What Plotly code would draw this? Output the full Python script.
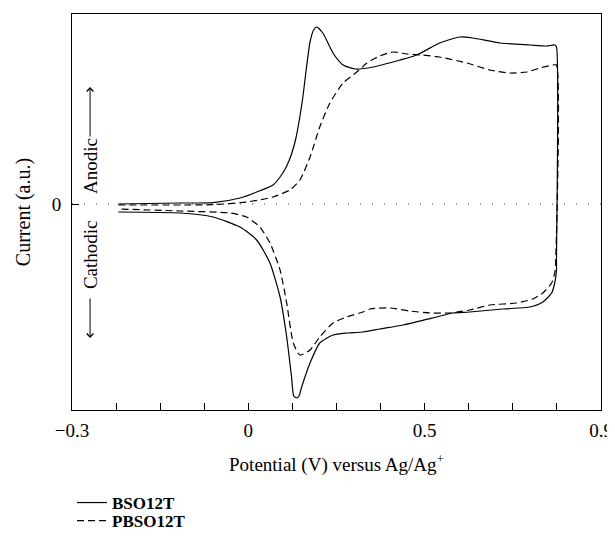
import plotly.graph_objects as go

# Cyclic voltammograms, potential in V, current in a.u.
bso_v = [-0.195, -0.055, 0.020, 0.081, 0.119, 0.156, 0.172, 0.186, 0.198, 0.208,
         0.216, 0.224, 0.232, 0.240, 0.248, 0.255, 0.269, 0.292, 0.315, 0.342, 0.383,
         0.444, 0.482, 0.534, 0.580, 0.609, 0.671, 0.739, 0.777, 0.795, 0.799,
         0.799, 0.799, 0.795, 0.788, 0.768, 0.739, 0.677, 0.602, 0.564, 0.527,
         0.451, 0.398, 0.360, 0.323, 0.292, 0.262, 0.240, 0.221, 0.215, 0.210,
         0.203, 0.198, 0.187, 0.172, 0.149, 0.119, 0.081, 0.020, -0.055, -0.195]
bso_i = [0.00, 0.01, 0.013, 0.06, 0.12, 0.19, 0.27, 0.37, 0.50, 0.66,
         0.85, 1.08, 1.37, 1.62, 1.74, 1.77, 1.71, 1.51, 1.39, 1.35, 1.37,
         1.44, 1.49, 1.61, 1.67, 1.66, 1.61, 1.59, 1.58, 1.59, 1.57,
         -0.56, -0.66, -0.79, -0.89, -0.98, -1.03, -1.05, -1.08, -1.09, -1.13,
         -1.21, -1.25, -1.28, -1.29, -1.31, -1.39, -1.59, -1.83, -1.92, -1.94,
         -1.92, -1.73, -1.33, -0.93, -0.59, -0.36, -0.23, -0.13, -0.09, -0.08]

pbso_v = [-0.195, -0.055, 0.020, 0.096, 0.156, 0.194, 0.217, 0.240, 0.262, 0.285,
          0.315, 0.346, 0.369, 0.398, 0.428, 0.460, 0.496, 0.534, 0.596, 0.648,
          0.693, 0.732, 0.761, 0.791, 0.799,
          0.797, 0.795, 0.788, 0.768, 0.745, 0.708, 0.648, 0.602, 0.557, 0.512,
          0.466, 0.421, 0.376, 0.360, 0.323, 0.292, 0.262, 0.240, 0.217, 0.202,
          0.187, 0.172, 0.149, 0.126, 0.096, 0.058, -0.055, -0.195]
pbso_i = [-0.01, -0.01, -0.007, 0.02, 0.07, 0.14, 0.24, 0.47, 0.77, 1.01,
          1.21, 1.32, 1.41, 1.48, 1.52, 1.50, 1.49, 1.47, 1.41, 1.34,
          1.31, 1.32, 1.36, 1.39, 1.39,
          -0.59, -0.69, -0.79, -0.89, -0.95, -0.99, -1.01, -1.06, -1.09, -1.09,
          -1.07, -1.04, -1.05, -1.08, -1.13, -1.19, -1.33, -1.46, -1.51, -1.39,
          -0.99, -0.66, -0.39, -0.23, -0.13, -0.09, -0.07, -0.05]

tick_pos = [-0.3, -0.2, -0.1, 0.0, 0.1, 0.2, 0.3, 0.4, 0.5, 0.6, 0.7, 0.8, 0.9]
tick_txt = ["\u22120.3", "", "", "", "0", "", "", "", "0.5", "", "", "", "0.9"]
long_ticks = [0.0, 0.5]

FONT = "Liberation Serif"
# page body has an 8px margin, so the figure is drawn 8px smaller
W, H = 607, 533

fig = go.Figure()
fig.add_trace(go.Scatter(x=bso_v, y=bso_i, mode="lines", name="<b>BSO12T</b>",
                         legend="legend",
                         line=dict(color="black", width=1.2, shape="spline", smoothing=0.6)))
fig.add_trace(go.Scatter(x=pbso_v, y=pbso_i, mode="lines", name="<b>PBSO12T</b>",
                         legend="legend2",
                         line=dict(color="black", width=1.2, dash="7px,4px",
                                   shape="spline", smoothing=0.6)))

# dotted zero line
fig.add_shape(type="line", xref="x domain", x0=0, x1=1, y0=0, y1=0, layer="below",
              line=dict(color="#444", width=1, dash="1px,11px"))

# Cathodic / Anodic labels with arrows
fig.add_annotation(x=-0.259, y=0.38, text="Anodic", textangle=-90, showarrow=False,
                   font=dict(family=FONT, size=19, color="black"))
fig.add_annotation(x=-0.259, y=-0.51, text="Cathodic", textangle=-90, showarrow=False,
                   font=dict(family=FONT, size=19, color="black"))
fig.add_annotation(x=-0.259, y=1.17, ax=-0.259, ay=0.66, axref="x", ayref="y", text="",
                   showarrow=True, arrowhead=4, arrowsize=1.3, arrowwidth=1, arrowcolor="black")
fig.add_annotation(x=-0.259, y=-1.34, ax=-0.259, ay=-0.93, axref="x", ayref="y", text="",
                   showarrow=True, arrowhead=4, arrowsize=1.3, arrowwidth=1, arrowcolor="black")

leg = dict(xanchor="left", yanchor="middle", font=dict(family=FONT, size=17),
           bgcolor="rgba(0,0,0,0)")

fig.update_layout(
    width=W, height=H,
    margin=dict(l=0, r=0, t=0, b=0),
    plot_bgcolor="white", paper_bgcolor="white",
    font=dict(family=FONT, size=19, color="black"),
    showlegend=True,
    legend=dict(x=64 / W, y=1 - 495 / H, **leg),
    legend2=dict(x=64 / W, y=1 - 513 / H, **leg),
    xaxis=dict(domain=[64 / W, 593 / W], range=[-0.3, 0.9], tickmode="array",
               tickvals=tick_pos, ticktext=tick_txt, ticklabelstandoff=3,
               ticks="inside", ticklen=7, tickcolor="black", showgrid=False, zeroline=False,
               showline=True, mirror=True, linecolor="black", linewidth=1, automargin=False,
               tickfont=dict(family=FONT, size=19),
               title=dict(text="Potential (V) versus Ag/Ag<sup>+</sup>",
                          font=dict(family=FONT, size=19), standoff=17)),
    xaxis2=dict(domain=[64 / W, 593 / W], range=[-0.3, 0.9], overlaying="x", side="bottom",
                tickmode="array", tickvals=long_ticks, ticktext=["", ""], ticks="inside",
                ticklen=12, tickcolor="black", showgrid=False, zeroline=False,
                showline=False, automargin=False),
    yaxis=dict(domain=[1 - 402 / H, 1 - 6 / H], range=[-2.06, 1.90], tickmode="array",
               tickvals=[0], ticktext=["0"], ticklabelstandoff=6,
               ticks="inside", ticklen=7, tickcolor="black", showgrid=False, zeroline=False,
               showline=True, mirror=True, linecolor="black", linewidth=1, automargin=False,
               tickfont=dict(family=FONT, size=19),
               title=dict(text="Current (a.u.)", font=dict(family=FONT, size=20), standoff=15)),
)

fig.write_html("out.html")
